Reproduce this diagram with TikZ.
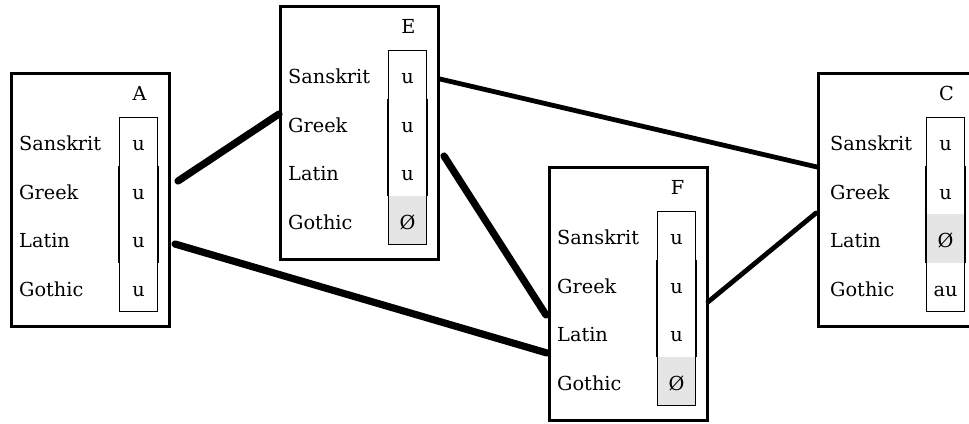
\documentclass[tikz,border=0pt]{standalone}
\usepackage{fontspec}
\setmainfont{DejaVu Serif}
\definecolor{cellgray}{RGB}{229,229,229}
\tikzset{
  outerbox/.style={draw=black, line width=2.8pt, rectangle, inner sep=0pt, anchor=north west,
    minimum width=158pt, minimum height=253pt},
  innerbox/.style={draw=black, line width=1.1pt, rectangle, inner sep=0pt, anchor=north west,
    minimum width=38pt, minimum height=194pt},
  thickside/.style={draw=black, line width=2.4pt},
  lab/.style={inner sep=0pt, anchor=base west, font=\fontsize{19.3}{23}\selectfont},
  val/.style={inner sep=0pt, anchor=base, font=\fontsize{19.3}{23}\selectfont},
  heavyedge/.style={draw=black, line width=7.2pt, line cap=round},
  lightedge/.style={draw=black, line width=4.8pt, line cap=round},
}
\def\labx{9}
% #1 name, #2 left, #3 top, #4 title, #5-#8 values, #9 shaded row
\newcommand\cladebox[9]{%
  \node[outerbox] (#1) at (#2,-#3) {};
  \ifnum#9>0
    \fill[cellgray] (#2+109,{-(#3+45+48.5*(#9-1))}) rectangle ++(38,-48.5);
  \fi
  \node[innerbox] (#1col) at (#2+109,-#3-45) {};
  \draw[thickside] ([yshift=-48.5pt]#1col.north west) -- ++(0,-97);
  \draw[thickside] ([yshift=-48.5pt]#1col.north east) -- ++(0,-97);
  \node[val] (#1title) at (#2+129.5,-#3-28) {#4};
  \node[lab] (#1l1) at (#2+\labx,{-(#3+45+24.25+9.5)}) {Sanskrit};
  \node[lab] (#1l2) at (#2+\labx,{-(#3+45+72.75+9.5)}) {Greek};
  \node[lab] (#1l3) at (#2+\labx,{-(#3+45+121.25+9.5)}) {Latin};
  \node[lab] (#1l4) at (#2+\labx,{-(#3+45+169.75+9.5)}) {Gothic};
  \node[val] (#1v1) at (#2+128.5,{-(#3+45+24.25+9.5)}) {#5};
  \node[val] (#1v2) at (#2+128.5,{-(#3+45+72.75+9.5)}) {#6};
  \node[val] (#1v3) at (#2+128.5,{-(#3+45+121.25+9.5)}) {#7};
  \node[val] (#1v4) at (#2+128.5,{-(#3+45+169.75+9.5)}) {#8};
}
\begin{document}
\begin{tikzpicture}[x=1pt,y=1pt]
\useasboundingbox (0,0) rectangle (969,-423);
\clip (0,0) rectangle (969,-423);
\cladebox{A}{10}{72}{A}{u}{u}{u}{u}{0}
\cladebox{E}{279}{5}{E}{u}{u}{u}{Ø}{4}
\cladebox{F}{548}{166}{F}{u}{u}{u}{Ø}{4}
\def\labx{13}
\cladebox{C}{817}{72}{C}{u}{u}{Ø}{au}{3}
% connector ports
\coordinate (A-pE) at (178,-181);
\coordinate (E-pA) at (279,-114);
\coordinate (A-pF) at (175,-244);
\coordinate (F-pA) at (547,-353);
\coordinate (E-pF) at (444,-156);
\coordinate (F-pE) at (546,-315);
\coordinate (E-pC) at (440,-79);
\coordinate (C-pE) at (817,-167);
\coordinate (F-pC) at (708,-302);
\coordinate (C-pF) at (816,-213);
\draw[heavyedge] (A-pE) -- (E-pA);
\draw[heavyedge] (A-pF) -- (F-pA);
\draw[heavyedge] (E-pF) -- (F-pE);
\draw[lightedge] (E-pC) -- (C-pE);
\draw[lightedge] (F-pC) -- (C-pF);
\end{tikzpicture}
\end{document}
